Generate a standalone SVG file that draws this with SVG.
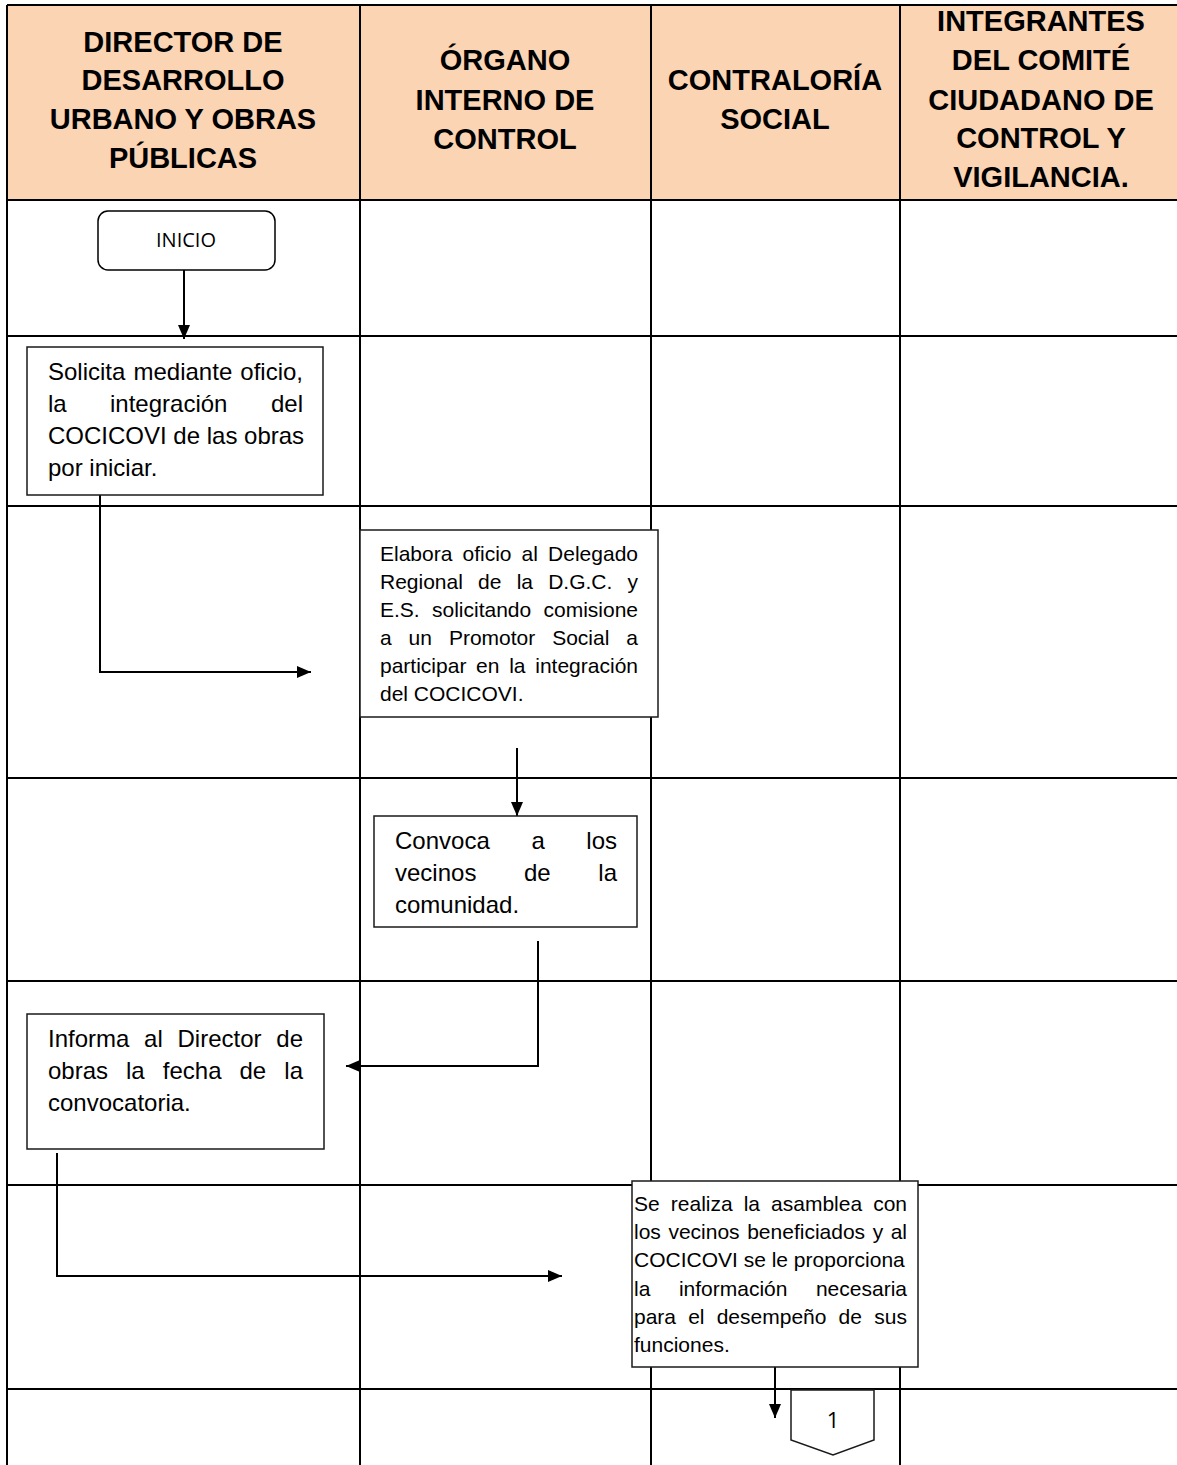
<svg xmlns="http://www.w3.org/2000/svg" width="1177" height="1465" viewBox="0 0 1177 1465">
<style>
.grid{stroke:#000;stroke-width:2;fill:none}
.hdr{font-family:"Liberation Sans",Arial,sans-serif;font-weight:bold;font-size:29px;fill:#000;text-anchor:middle}
.box{fill:#fff;stroke:#1a1a1a;stroke-width:1.5}
.t24{font-family:"Liberation Sans",Arial,sans-serif;font-size:24px;fill:#000}
.t21{font-family:"Liberation Sans",Arial,sans-serif;font-size:21px;fill:#000}
.e{text-anchor:end}
.conn{stroke:#000;stroke-width:2;fill:none}
</style>
<defs>
<marker id="arr" viewBox="0 0 14 12" refX="14" refY="6" markerWidth="14" markerHeight="12" markerUnits="userSpaceOnUse" orient="auto">
<path d="M0,0 L14,6 L0,12 z" fill="#000"/>
</marker>
</defs>
<rect width="1177" height="1465" fill="#fff"/>
<g id="table">
<rect x="7" y="5" width="1172" height="195" fill="#FBD4B4"/>
<path class="grid" d="M7,5 H1179 M7,200 H1179 M7,336 H1179 M7,506 H1179 M7,778 H1179 M7,981 H1179 M7,1185 H1179 M7,1389 H1179 M7,5 V1465 M360,5 V1465 M651,5 V1465 M900,5 V1465"/>
</g>
<g id="headers">
<text class="hdr" x="183" y="52">DIRECTOR DE</text>
<text class="hdr" x="183" y="90">DESARROLLO</text>
<text class="hdr" x="183" y="129">URBANO Y OBRAS</text>
<text class="hdr" x="183" y="168">PÚBLICAS</text>
<text class="hdr" x="505" y="70">ÓRGANO</text>
<text class="hdr" x="505" y="110">INTERNO DE</text>
<text class="hdr" x="505" y="149">CONTROL</text>
<text class="hdr" x="775" y="90">CONTRALORÍA</text>
<text class="hdr" x="775" y="129">SOCIAL</text>
<text class="hdr" x="1041" y="31">INTEGRANTES</text>
<text class="hdr" x="1041" y="70">DEL COMITÉ</text>
<text class="hdr" x="1041" y="110">CIUDADANO DE</text>
<text class="hdr" x="1041" y="148">CONTROL Y</text>
<text class="hdr" x="1041" y="187">VIGILANCIA.</text>
</g>
<g id="connectors">
<path class="conn" d="M184,270 V339" marker-end="url(#arr)"/>
<path class="conn" d="M100,495 V672 H311" marker-end="url(#arr)"/>
<path class="conn" d="M517,748 V816" marker-end="url(#arr)"/>
<path class="conn" d="M538,941 V1066 H346" marker-end="url(#arr)"/>
<path class="conn" d="M57,1153 V1276 H562" marker-end="url(#arr)"/>
<path class="conn" d="M775,1367 V1418" marker-end="url(#arr)"/>
</g>
<g id="inicio">
<rect x="98" y="211" width="177" height="59" rx="10" ry="10" fill="#fff" stroke="#000" stroke-width="1.5"/>
<text x="186" y="247" font-family="'Open Sans','Liberation Sans',sans-serif" font-size="20" text-anchor="middle" fill="#000">INICIO</text>
</g>
<g id="solicita">
<rect class="box" x="27" y="347" width="296" height="148"/>
<text class="t24" x="48" y="380">Solicita</text>
<text class="t24" x="133.5" y="380">mediante</text>
<text class="t24 e" x="303" y="380">oficio,</text>
<text class="t24" x="48" y="412">la</text>
<text class="t24" x="110" y="412">integración</text>
<text class="t24 e" x="303" y="412">del</text>
<text class="t24" x="48" y="444">COCICOVI de las obras</text>
<text class="t24" x="48" y="476">por iniciar.</text>
</g>
<g id="elabora">
<rect class="box" x="360" y="530" width="298" height="187"/>
<text class="t21" x="380" y="561">Elabora</text>
<text class="t21" x="462.5" y="561">oficio</text>
<text class="t21" x="521.6" y="561">al</text>
<text class="t21 e" x="638" y="561">Delegado</text>
<text class="t21" x="380" y="589">Regional</text>
<text class="t21" x="478.1" y="589">de</text>
<text class="t21" x="516.7" y="589">la</text>
<text class="t21" x="548.2" y="589">D.G.C.</text>
<text class="t21 e" x="638" y="589">y</text>
<text class="t21" x="380" y="617">E.S.</text>
<text class="t21" x="432" y="617">solicitando</text>
<text class="t21 e" x="638" y="617">comisione</text>
<text class="t21" x="380" y="645">a</text>
<text class="t21" x="408.6" y="645">un</text>
<text class="t21" x="448.9" y="645">Promotor</text>
<text class="t21" x="552.2" y="645">Social</text>
<text class="t21 e" x="638" y="645">a</text>
<text class="t21" x="380" y="673">participar</text>
<text class="t21" x="476.1" y="673">en</text>
<text class="t21" x="509.2" y="673">la</text>
<text class="t21 e" x="638" y="673">integración</text>
<text class="t21" x="380" y="701">del COCICOVI.</text>
</g>
<g id="convoca">
<rect class="box" x="374" y="816" width="263" height="111"/>
<text class="t24" x="395" y="849">Convoca</text>
<text class="t24" x="531.4" y="849">a</text>
<text class="t24 e" x="617" y="849">los</text>
<text class="t24" x="395" y="881">vecinos</text>
<text class="t24" x="524" y="881">de</text>
<text class="t24 e" x="617" y="881">la</text>
<text class="t24" x="395" y="913">comunidad.</text>
</g>
<g id="informa">
<rect class="box" x="27" y="1014" width="297" height="135"/>
<text class="t24" x="48" y="1047">Informa</text>
<text class="t24" x="144.1" y="1047">al</text>
<text class="t24" x="177.5" y="1047">Director</text>
<text class="t24 e" x="303" y="1047">de</text>
<text class="t24" x="48" y="1079">obras</text>
<text class="t24" x="126" y="1079">la</text>
<text class="t24" x="162.8" y="1079">fecha</text>
<text class="t24" x="239.5" y="1079">de</text>
<text class="t24 e" x="303" y="1079">la</text>
<text class="t24" x="48" y="1111">convocatoria.</text>
</g>
<g id="asamblea">
<rect class="box" x="632" y="1181" width="286" height="186"/>
<text class="t21" x="634" y="1211">Se</text>
<text class="t21" x="670.8" y="1211">realiza</text>
<text class="t21" x="743.7" y="1211">la</text>
<text class="t21" x="771.1" y="1211">asamblea</text>
<text class="t21 e" x="907" y="1211">con</text>
<text class="t21" x="634" y="1239">los</text>
<text class="t21" x="668.4" y="1239">vecinos</text>
<text class="t21" x="747.2" y="1239">beneficiados</text>
<text class="t21" x="872.7" y="1239">y</text>
<text class="t21 e" x="907" y="1239">al</text>
<text class="t21" x="634" y="1267">COCICOVI se le proporciona</text>
<text class="t21" x="634" y="1296">la</text>
<text class="t21" x="678.9" y="1296">información</text>
<text class="t21 e" x="907" y="1296">necesaria</text>
<text class="t21" x="634" y="1324">para</text>
<text class="t21" x="688.2" y="1324">el</text>
<text class="t21" x="716.7" y="1324">desempeño</text>
<text class="t21" x="838.6" y="1324">de</text>
<text class="t21 e" x="907" y="1324">sus</text>
<text class="t21" x="634" y="1352">funciones.</text>
</g>
<g id="offpage1">
<path d="M791,1390 H874 V1440 L833,1455 L791,1440 Z" fill="#fff" stroke="#1a1a1a" stroke-width="1.5"/>
<text x="833" y="1428" font-family="'Open Sans','Liberation Sans',sans-serif" font-size="22" text-anchor="middle" fill="#000">1</text>
</g>
</svg>
